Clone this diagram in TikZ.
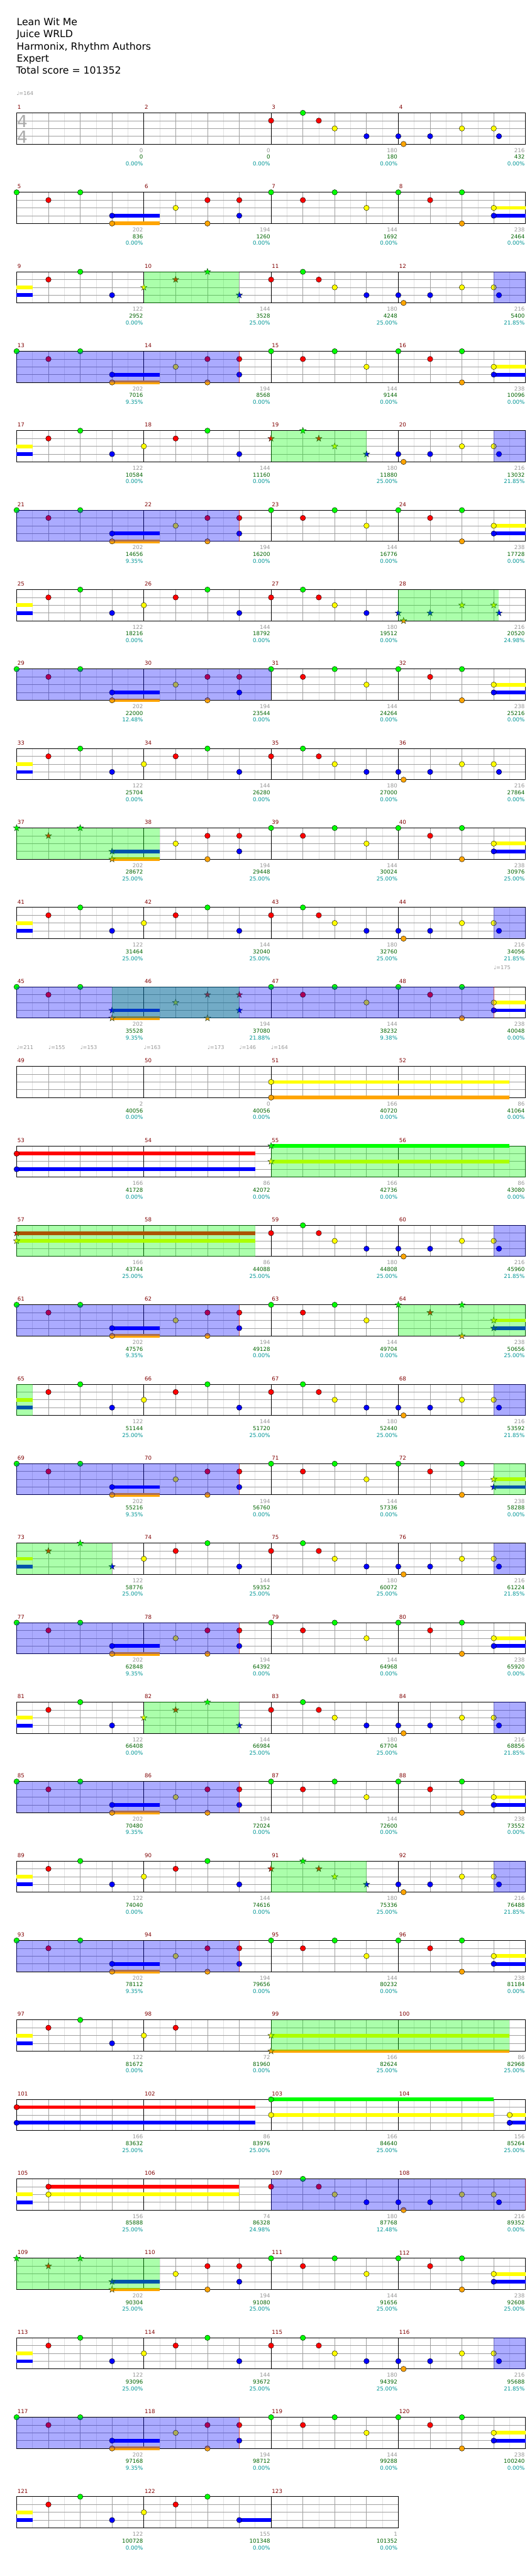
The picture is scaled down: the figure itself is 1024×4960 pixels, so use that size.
\documentclass[tikz,border=0pt]{standalone}
\usepackage{fontspec}
\setmainfont{DejaVu Sans}
\definecolor{nG}{RGB}{0,255,0}
\definecolor{nR}{RGB}{255,0,0}
\definecolor{nY}{RGB}{255,255,0}
\definecolor{nB}{RGB}{0,0,255}
\definecolor{nO}{RGB}{255,165,0}
\definecolor{mred}{RGB}{128,0,0}
\definecolor{lgray}{RGB}{150,150,150}
\definecolor{dgreen}{RGB}{0,100,0}
\definecolor{tealc}{RGB}{0,150,150}
\definecolor{gridl}{RGB}{225,225,225}
\definecolor{gridb}{RGB}{160,160,160}
\definecolor{tgray}{RGB}{150,150,150}
\definecolor{tsgray}{RGB}{170,170,170}
\definecolor{stardk}{RGB}{20,50,20}
\tikzset{
 lightgrid/.style={draw=gridl, line width=0.8pt},
 beatgrid/.style={draw=gridb, line width=0.8pt},
 measline/.style={draw=black, line width=0.8pt},
 border/.style={draw=black, line width=1.2pt},
 mnum/.style={anchor=west, inner sep=0pt, xshift=1.5pt, text=mred, font=\fontsize{10.5}{12}\selectfont},
 lab/.style={anchor=east, inner sep=0pt, xshift=-1.5pt, font=\fontsize{10.5}{12}\selectfont},
 tempo/.style={anchor=west, inner sep=0pt, text=tgray, font=\fontsize{10}{12}\selectfont},
 tsig/.style={inner sep=0pt, text=tsgray, font=\fontsize{32}{32}\selectfont},
 titletext/.style={anchor=base west, inner sep=0pt, font=\fontsize{19}{23}\selectfont}
}
\newcommand\starat[3]{\filldraw[fill=#1,draw=stardk,line width=0.5pt,shift={(#2,#3)}] (90:6.5pt) -- (126:2.6pt) -- (162:6.5pt) -- (198:2.6pt) -- (234:6.5pt) -- (270:2.6pt) -- (306:6.5pt) -- (342:2.6pt) -- (18:6.5pt) -- (54:2.6pt) -- cycle;}
\newcommand\NT[3]{%
 \pgfmathparse{((#3)>=(\sa-0.01)) && ((#3)<=(\sb+0.01)) ? 1 : 0}%
 \ifdim\pgfmathresult pt>0.5pt\relax\starat{#1}{#3}{#2}\else\filldraw[fill=#1,draw=black,line width=0.5pt] (#3,#2) circle [radius=5.2pt];\fi}
\newcommand\SUS[4]{\fill[fill=#1] (#3,#2-3.5) rectangle (#4,#2+3.5);}
\newcommand\GOV[2]{\fill[fill=nG,opacity=0.33] (#1,0) rectangle (#2,60);}
\newcommand\BOV[2]{\fill[fill=nB,opacity=0.33] (#1,0) rectangle (#2,60);}
\newcommand\RLN[1]{\draw[draw=red,opacity=0.45,line width=0.8pt] (#1,0) -- (#1,60);}
\def\patA{\NT{nG}{0}{0}\NT{nR}{15}{2}\NT{nG}{0}{4}\SUS{nB}{45}{6}{9}\NT{nB}{45}{6}\SUS{nO}{60}{6}{9}\NT{nO}{60}{6}\NT{nY}{30}{10}\NT{nR}{15}{12}\NT{nO}{60}{12}\NT{nR}{15}{14}\NT{nB}{45}{14}}
\def\patQ{\SUS{nY}{30}{0}{1}\SUS{nB}{45}{0}{1}\NT{nR}{15}{2}\NT{nG}{0}{4}\NT{nB}{45}{6}\NT{nY}{30}{8}\NT{nR}{15}{10}\NT{nG}{0}{12}\NT{nB}{45}{14}}
\def\patR{\NT{nG}{0}{16}\NT{nR}{15}{18}\NT{nG}{0}{20}\NT{nY}{30}{22}\NT{nG}{0}{24}\NT{nR}{15}{26}\NT{nG}{0}{28}\NT{nO}{60}{28}\SUS{nY}{30}{30}{32}\NT{nY}{30}{30}\SUS{nB}{45}{30}{32}\NT{nB}{45}{30}}
\def\patS{\NT{nR}{15}{16}\NT{nG}{0}{18}\NT{nR}{15}{19}\NT{nY}{30}{20}\NT{nB}{45}{22}\NT{nB}{45}{24}\NT{nO}{60}{24.33}\NT{nB}{45}{26}\NT{nY}{30}{28}\NT{nY}{30}{30}\NT{nB}{45}{30.33}}
\newcommand\Row[8]{%
 \pgfmathsetmacro\T{217.3+153*(#1-1)}%
 \def\sa{#4}\def\sb{#5}%
 \pgfmathtruncatemacro\np{8*#3}%
 \begin{scope}[xshift=32pt,yshift=-\T pt,x=30.625pt,y=-1pt]
  \foreach \p in {1,3,...,\np} {\draw[lightgrid] (\p,0) -- (\p,60);}
  \foreach \p in {2,4,...,\np} {\draw[beatgrid] (\p,0) -- (\p,60);}
  \foreach \q in {15,30,45} {\draw[beatgrid] (0,\q) -- (\np,\q);}
  \foreach \p in {8,16,...,\np} {\draw[measline] (\p,0) -- (\p,60);}
  \draw[border] (0,0) rectangle (\np,60);
  #6
  #7
  \foreach \la/\lb/\lc [count=\i] in {#8} {%
    \pgfmathtruncatemacro\mn{#2+\i-1}%
    \node[mnum] at (8*\i-8,-11) {\mn};
    \node[lab,text=lgray] at (8*\i,72) {\la};
    \node[lab,text=dgreen] at (8*\i,85) {\lb};
    \node[lab,text=tealc] at (8*\i,98) {\lc};
  }
 \end{scope}}
\begin{document}
\begin{tikzpicture}[x=1pt,y=-1pt]
\useasboundingbox (0,0) rectangle (1024,4960);
\fill[white] (0,0) rectangle (1024,4960);
\node[titletext] at (32,49.3) {Lean Wit Me};
\node[titletext] at (32,72.6) {Juice WRLD};
\node[titletext] at (32,95.9) {Harmonix, Rhythm Authors};
\node[titletext] at (32,119.2) {Expert};
\node[titletext] at (31,142.5) {Total score = 101352};

\Row{1}{1}{4}{100}{-1}{\node[tempo] at (0,-37) {♩=164}; \node[tsig] at (0.36,16) {4}; \node[tsig] at (0.36,46) {4}; \patS}{}{0/0/0.00\%, 0/0/0.00\%, 180/180/0.00\%, 216/432/0.00\%}
\Row{2}{5}{4}{100}{-1}{\patA\patR}{}{202/836/0.00\%, 194/1260/0.00\%, 144/1692/0.00\%, 238/2464/0.00\%}
\Row{3}{9}{4}{8}{14}{\patQ\patS}{\GOV{8}{14}\BOV{30}{32}}{122/2952/0.00\%, 144/3528/25.00\%, 180/4248/25.00\%, 216/5400/21.85\%}
\Row{4}{13}{4}{100}{-1}{\patA\patR}{\BOV{0}{14}\RLN{14}}{202/7016/9.35\%, 194/8568/0.00\%, 144/9144/0.00\%, 238/10096/0.00\%}
\Row{5}{17}{4}{16}{22}{\patQ\patS}{\GOV{16}{22}\BOV{30}{32}}{122/10584/0.00\%, 144/11160/0.00\%, 180/11880/25.00\%, 216/13032/21.85\%}
\Row{6}{21}{4}{100}{-1}{\patA\patR}{\BOV{0}{14}\RLN{14}}{202/14656/9.35\%, 194/16200/0.00\%, 144/16776/0.00\%, 238/17728/0.00\%}
\Row{7}{25}{4}{24}{30.4}{\patQ\patS}{\GOV{24}{30.33}}{122/18216/0.00\%, 144/18792/0.00\%, 180/19512/0.00\%, 216/20520/24.98\%}
\Row{8}{29}{4}{100}{-1}{\patA\patR}{\BOV{0}{16}}{202/22000/12.48\%, 194/23544/0.00\%, 144/24264/0.00\%, 238/25216/0.00\%}
\Row{9}{33}{4}{100}{-1}{\patQ\patS}{}{122/25704/0.00\%, 144/26280/0.00\%, 180/27000/0.00\%, 216/27864/0.00\%}
\Row{10}{37}{4}{0}{9}{\patA\patR}{\GOV{0}{9}}{202/28672/25.00\%, 194/29448/25.00\%, 144/30024/25.00\%, 238/30976/25.00\%}
\Row{11}{41}{4}{100}{-1}{\patQ\patS}{\BOV{30}{32}}{122/31464/25.00\%, 144/32040/25.00\%, 180/32760/25.00\%, 216/34056/21.85\%}
\Row{12}{45}{4}{6}{14}{\node[tempo] at (30,-37) {♩=175}; \patA\patR}{\GOV{6}{14}\BOV{0}{30}\RLN{30}}{202/35528/9.35\%, 194/37080/21.88\%, 144/38232/9.38\%, 238/40048/0.00\%}
\Row{13}{49}{4}{100}{-1}{\node[tempo] at (0,-37) {♩=211}; \node[tempo] at (2,-37) {♩=155}; \node[tempo] at (4,-37) {♩=153}; \node[tempo] at (8,-37) {♩=163}; \node[tempo] at (12,-37) {♩=173}; \node[tempo] at (14,-37) {♩=146}; \node[tempo] at (16,-37) {♩=164}; \SUS{nY}{30}{16}{31}\NT{nY}{30}{16}\SUS{nO}{60}{16}{31}\NT{nO}{60}{16}}{}{2/40056/0.00\%, 0/40056/0.00\%, 166/40720/0.00\%, 86/41064/0.00\%}
\Row{14}{53}{4}{16}{32}{\SUS{nR}{15}{0}{15}\NT{nR}{15}{0}\SUS{nB}{45}{0}{15}\NT{nB}{45}{0}\SUS{nG}{0}{16}{31}\NT{nG}{0}{16}\SUS{nY}{30}{16}{31}\NT{nY}{30}{16}}{\GOV{16}{32}}{166/41728/0.00\%, 86/42072/0.00\%, 166/42736/0.00\%, 86/43080/0.00\%}
\Row{15}{57}{4}{0}{0}{\SUS{nR}{15}{0}{15}\NT{nR}{15}{0}\SUS{nY}{30}{0}{15}\NT{nY}{30}{0}\patS}{\GOV{0}{15}\BOV{30}{32}}{166/43744/25.00\%, 86/44088/25.00\%, 180/44808/25.00\%, 216/45960/21.85\%}
\Row{16}{61}{4}{24}{32}{\patA\patR}{\BOV{0}{14}\RLN{14}\GOV{24}{32}}{202/47576/9.35\%, 194/49128/0.00\%, 144/49704/0.00\%, 238/50656/25.00\%}
\Row{17}{65}{4}{100}{-1}{\patQ\patS}{\GOV{0}{1}\BOV{30}{32}}{122/51144/25.00\%, 144/51720/25.00\%, 180/52440/25.00\%, 216/53592/21.85\%}
\Row{18}{69}{4}{30}{32}{\patA\patR}{\BOV{0}{14}\RLN{14}\GOV{30}{32}}{202/55216/9.35\%, 194/56760/0.00\%, 144/57336/0.00\%, 238/58288/0.00\%}
\Row{19}{73}{4}{0}{6}{\patQ\patS}{\GOV{0}{6}\BOV{30}{32}}{122/58776/25.00\%, 144/59352/25.00\%, 180/60072/25.00\%, 216/61224/21.85\%}
\Row{20}{77}{4}{100}{-1}{\patA\patR}{\BOV{0}{14}\RLN{14}}{202/62848/9.35\%, 194/64392/0.00\%, 144/64968/0.00\%, 238/65920/0.00\%}
\Row{21}{81}{4}{8}{14}{\patQ\patS}{\GOV{8}{14}\BOV{30}{32}}{122/66408/0.00\%, 144/66984/25.00\%, 180/67704/25.00\%, 216/68856/21.85\%}
\Row{22}{85}{4}{100}{-1}{\patA\patR}{\BOV{0}{14}\RLN{14}}{202/70480/9.35\%, 194/72024/0.00\%, 144/72600/0.00\%, 238/73552/0.00\%}
\Row{23}{89}{4}{16}{22}{\patQ\patS}{\GOV{16}{22}\BOV{30}{32}}{122/74040/0.00\%, 144/74616/0.00\%, 180/75336/25.00\%, 216/76488/21.85\%}
\Row{24}{93}{4}{100}{-1}{\patA\patR}{\BOV{0}{14}\RLN{14}}{202/78112/9.35\%, 194/79656/0.00\%, 144/80232/0.00\%, 238/81184/0.00\%}
\Row{25}{97}{4}{16}{31}{\SUS{nY}{30}{0}{1}\SUS{nB}{45}{0}{1}\NT{nR}{15}{2}\NT{nG}{0}{4}\NT{nB}{45}{6}\NT{nY}{30}{8}\NT{nR}{15}{10}\SUS{nY}{30}{16}{31}\NT{nY}{30}{16}\SUS{nO}{60}{16}{31}\NT{nO}{60}{16}}{\GOV{16}{31}}{122/81672/0.00\%, 72/81960/0.00\%, 166/82624/25.00\%, 86/82968/25.00\%}
\Row{26}{101}{4}{100}{-1}{\SUS{nR}{15}{0}{15}\NT{nR}{15}{0}\SUS{nB}{45}{0}{15}\NT{nB}{45}{0}\SUS{nG}{0}{16}{30}\NT{nG}{0}{16}\SUS{nY}{30}{16}{30}\NT{nY}{30}{16}\SUS{nY}{30}{31}{32}\NT{nY}{30}{31}\SUS{nB}{45}{31}{32}\NT{nB}{45}{31}}{}{166/83632/25.00\%, 86/83976/25.00\%, 166/84640/25.00\%, 156/85264/25.00\%}
\Row{27}{105}{4}{100}{-1}{\SUS{nY}{30}{0}{1}\SUS{nB}{45}{0}{1}\SUS{nR}{15}{2}{14}\NT{nR}{15}{2}\SUS{nY}{30}{2}{14}\NT{nY}{30}{2}\patS}{\BOV{16}{32}\RLN{32}}{156/85888/25.00\%, 74/86328/24.98\%, 180/87768/12.48\%, 216/89352/0.00\%}
\Row{28}{109}{4}{0}{9}{\patA\patR}{\GOV{0}{9}}{202/90304/25.00\%, 194/91080/25.00\%, 144/91656/25.00\%, 238/92608/25.00\%}
\Row{29}{113}{4}{100}{-1}{\patQ\patS}{\BOV{30}{32}}{122/93096/25.00\%, 144/93672/25.00\%, 180/94392/25.00\%, 216/95688/21.85\%}
\Row{30}{117}{4}{100}{-1}{\patA\patR}{\BOV{0}{14}\RLN{14}}{202/97168/9.35\%, 194/98712/0.00\%, 144/99288/0.00\%, 238/100240/0.00\%}
\Row{31}{121}{3}{100}{-1}{\SUS{nY}{30}{0}{1}\SUS{nB}{45}{0}{1}\NT{nR}{15}{2}\NT{nG}{0}{4}\NT{nB}{45}{6}\NT{nY}{30}{8}\NT{nR}{15}{10}\NT{nG}{0}{12}\SUS{nB}{45}{14}{16}\NT{nB}{45}{14}}{}{122/100728/0.00\%, 155/101348/0.00\%, 1/101352/0.00\%}
\end{tikzpicture}
\end{document}
